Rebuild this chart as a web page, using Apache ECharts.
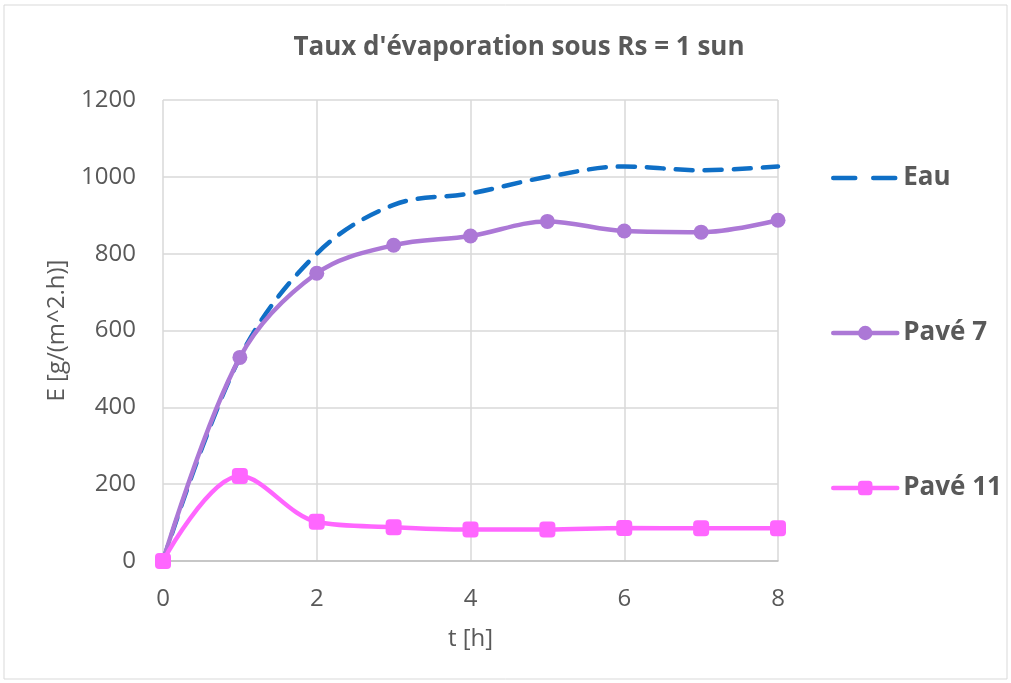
<!DOCTYPE html>
<html>
<head>
<meta charset="utf-8">
<script src="https://cdn.jsdelivr.net/npm/echarts@6/dist/echarts.min.js"></script>
<style>
  html, body { margin: 0; padding: 0; background: #fff; }
  #chart { width: 1011px; height: 683px; }
</style>
</head>
<body>
<div id="chart"></div>
<script>
// temps en heures
const hours = [0, 1, 2, 3, 4, 5, 6, 7, 8];
const eau = [0, 530, 800, 927, 957, 1000, 1027, 1017, 1027];
const pave7 = [0, 530, 749, 822, 846, 884, 859, 856, 887];
const pave11 = [0, 221, 102, 88, 82, 82, 86, 85, 85];

const yTicks = [0, 200, 400, 600, 800, 1000, 1200];
const xTicks = [0, 2, 4, 6, 8];

const textColor = '#595959';
const gridColor = '#d9d9d9';
const font = 'Open Sans';

function pairs(vals) {
  return hours.map((h, i) => [h, vals[i]]);
}

const chart = echarts.init(document.getElementById('chart'));

function legendAt(item, top, dash) {
  return {
    data: [item],
    left: 826,
    top: top,
    itemWidth: 64,
    itemHeight: 18,
    itemGap: 0,
    lineStyle: {width: 4.5, type: dash || 'solid', cap: 'round'},
    textStyle: {color: textColor, fontSize: 26, fontWeight: 'bold', fontFamily: font, padding: [0, 0, 0, 1]},
    selectedMode: false
  };
}

const option = {
  animation: false,
  textStyle: {fontFamily: font},
  title: {
    text: "Taux d'évaporation sous Rs = 1 sun",
    left: 514,
    textAlign: 'center',
    top: 30,
    textStyle: {color: textColor, fontSize: 26, fontWeight: 'bold', fontFamily: font}
  },
  graphic: [{
    type: 'rect',
    shape: {x: 4, y: 5, width: 1003, height: 674},
    style: {fill: 'none', stroke: '#d9d9d9', lineWidth: 1},
    silent: true
  }],
  legend: [
    legendAt({name: 'Eau', itemStyle: {opacity: 0}}, 160, [22, 18]),
    legendAt('Pavé 7', 315),
    legendAt('Pavé 11', 470)
  ],
  grid: {left: 163, right: 1011 - 778, top: 100, bottom: 683 - 561},
  xAxis: {
    type: 'value',
    min: 0,
    max: 8,
    interval: 2,
    name: 't [h]',
    nameLocation: 'middle',
    nameGap: 66,
    nameTextStyle: {color: textColor, fontSize: 24},
    axisLine: {show: true, lineStyle: {color: '#bfbfbf', width: 1.5}},
    axisTick: {show: false},
    axisLabel: {color: textColor, fontSize: 24, margin: 26,
      formatter: v => xTicks.includes(v) ? String(v) : ''},
    splitLine: {show: true, lineStyle: {color: gridColor, width: 1.5}}
  },
  yAxis: {
    type: 'value',
    min: 0,
    max: 1200,
    interval: 200,
    name: 'E [g/(m^2.h)]',
    nameLocation: 'middle',
    nameGap: 94,
    nameTextStyle: {color: textColor, fontSize: 24},
    axisLine: {show: false},
    axisTick: {show: false},
    axisLabel: {color: textColor, fontSize: 24, margin: 27,
      formatter: v => yTicks.includes(v) ? String(v) : ''},
    splitLine: {show: true, lineStyle: {color: gridColor, width: 1.5}}
  },
  series: [
    {
      name: 'Eau',
      type: 'line',
      data: pairs(eau),
      smooth: 0.35,
      symbol: 'none',
      itemStyle: {color: '#0f6fc6'},
      lineStyle: {color: '#0f6fc6', width: 4.5, type: [17, 12], cap: 'round'}
    },
    {
      name: 'Pavé 7',
      type: 'line',
      data: pairs(pave7),
      smooth: 0.35,
      symbol: 'circle',
      symbolSize: 15,
      itemStyle: {color: '#ac78d6'},
      lineStyle: {color: '#ac78d6', width: 4.5}
    },
    {
      name: 'Pavé 11',
      type: 'line',
      data: pairs(pave11),
      smooth: 0.35,
      symbol: 'roundRect',
      symbolSize: 16,
      itemStyle: {color: '#ff66ff'},
      lineStyle: {color: '#ff66ff', width: 4.5}
    }
  ]
};

chart.setOption(option);
</script>
</body>
</html>
